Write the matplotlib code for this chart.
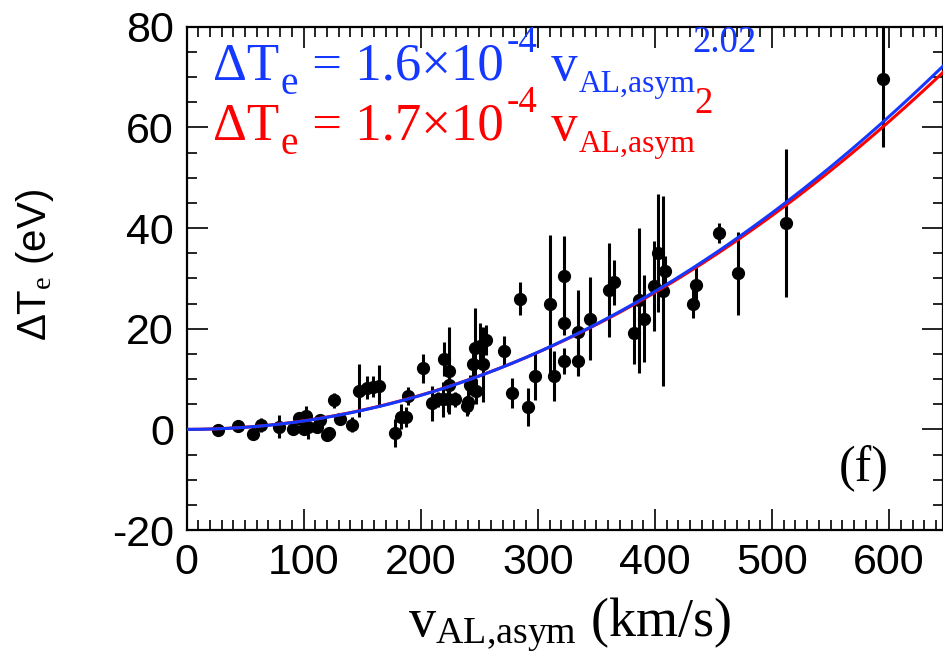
import numpy as np
import matplotlib
matplotlib.use('Agg')
import matplotlib.pyplot as plt
from matplotlib.ticker import MultipleLocator

plt.rcParams['axes.unicode_minus'] = False
plt.rcParams['mathtext.fontset'] = 'custom'
plt.rcParams['mathtext.rm'] = 'Liberation Serif'
plt.rcParams['mathtext.it'] = 'Liberation Serif:italic'

# data: v_AL,asym (km/s), Delta T_e (eV), error (eV)
v_al = [27, 44, 57, 64, 79, 91, 96, 100, 102, 104, 111, 114, 120, 122, 126,
        131, 141, 147, 154, 159, 164.5, 178, 183, 187, 189, 202, 210, 215,
        219, 223, 220, 224, 224, 229, 239.5, 240.5, 242, 245, 246, 247.5,
        251, 253, 256, 271, 278, 285, 291.7, 297.4, 310.7, 314, 322.4, 322,
        322, 334, 334, 344.3, 360.8, 364.8, 381.8, 386.3, 390.4, 399, 402.6,
        406.8, 409, 432.4, 435.3, 454.6, 470.8, 512, 594.6]
dte = [-0.2, 0.6, -1.0, 0.8, 0.5, 0.0, 2.3, 0.0, 2.7, 0.5, 0.4, 1.8, -1.2,
       -0.8, 5.8, 2.1, 0.9, 7.7, 8.3, 8.5, 8.6, -0.8, 2.5, 2.5, 6.7, 12.1,
       5.2, 6.0, 6.0, 6.0, 14.0, 11.7, 8.9, 6.0, 4.6, 5.5, 8.9, 13.0, 16.2,
       7.6, 16.6, 12.9, 17.8, 15.6, 7.3, 26.0, 4.5, 10.6, 25.0, 10.6, 30.4,
       21.2, 13.6, 19.3, 13.6, 22.0, 27.7, 29.2, 19.2, 25.7, 22.0, 28.5,
       35.1, 27.5, 31.5, 25.0, 28.6, 39.1, 31.0, 41.0, 69.7]
dte_err = [0.8, 0.8, 0.8, 1.4, 2.3, 0.8, 0.8, 1.0, 2.0, 2.5, 1.0, 1.0, 0.8,
           0.8, 1.5, 1.2, 1.5, 5.2, 2.3, 2.1, 4.2, 2.8, 2.5, 2.0, 1.8, 2.8,
           3.5, 1.5, 3.5, 2.5, 3.3, 8.7, 1.5, 1.5, 2.0, 2.5, 2.0, 3.5, 8.0,
           2.5, 4.5, 7.5, 3.0, 3.0, 3.0, 3.2, 3.8, 4.8, 13.7, 5.0, 8.0, 2.5,
           2.5, 8.5, 3.0, 8.3, 9.4, 4.5, 6.3, 14.4, 8.7, 8.9, 11.7, 18.8, 3.0,
           2.9, 3.6, 2.0, 8.2, 14.7, 13.5]

# power-law fits
fit_blue = (1.52e-4, 2.02)
fit_red = (1.7e-4, 2.0)
blue = '#1438ff'
red = '#ff0000'

W, H = 943, 665
fig = plt.figure(figsize=(W / 100, H / 100), dpi=100)
ax = fig.add_axes([0.1978, 0.203, 0.8022, 0.7566])

ax.errorbar(v_al, dte, yerr=dte_err, fmt='o', color='black', ms=8.5,
            elinewidth=2.2, capsize=0, zorder=3)

vv = np.linspace(0, 660, 400)
ax.plot(vv, fit_red[0] * vv ** fit_red[1], color=red, lw=2.2, zorder=4)
ax.plot(vv, fit_blue[0] * vv ** fit_blue[1], color=blue, lw=2.2, zorder=5)

ax.set_xlim(0, 646)
ax.set_ylim(-20, 80)
ax.xaxis.set_major_locator(MultipleLocator(100))
ax.xaxis.set_minor_locator(MultipleLocator(10))
ax.yaxis.set_major_locator(MultipleLocator(20))
ax.yaxis.set_minor_locator(MultipleLocator(5))
ax.tick_params(which='both', direction='in', top=True, right=True,
               width=1.2, colors='black')
ax.tick_params(which='major', length=15, labelsize=31, pad=9)
ax.tick_params(which='minor', length=7)
for lab in ax.get_xticklabels() + ax.get_yticklabels():
    lab.set_family('Liberation Sans')
for sp in ax.spines.values():
    sp.set_linewidth(1.6)

ax.set_xlabel(r'v$_\mathrm{AL{,}asym}$ (km/s)', family='Liberation Serif',
              fontsize=39)
ax.xaxis.set_label_coords(0.507, -0.13)
ax.set_ylabel(r'ΔT$_\mathrm{e}$ (eV)', family='Liberation Sans',
              fontsize=29)
ax.yaxis.set_label_coords(-0.172, 0.527)

# equations: pieces laid out left to right
# (text, size factor, y shift in px, x shift in px)
renderer = fig.canvas.get_renderer()


def put_eq(x0, y0, pieces, color, size):
    x = x0
    for s, f, dy, dx in pieces:
        t = fig.text((x + dx) / W, 1 - (y0 - dy) / H, s, fontsize=size * f,
                     family='Liberation Serif', color=color, va='baseline')
        x = t.get_window_extent(renderer).x1 + 1


S = 38
put_eq(213, 80, [('ΔT', 1, 0, 0), ('e', 0.75, -14, 0),
                 (' = 1.6×10', 1, 0, 0), ('-4', 0.7, 28, 2),
                 (' v', 1, 0, 0), ('AL,asym', 0.6, -12, 0),
                 ('2.02', 0.7, 28, -4)], blue, S)
put_eq(213, 140, [('ΔT', 1, 0, 0), ('e', 0.75, -14, 0),
                  (' = 1.7×10', 1, 0, 0), ('-4', 0.7, 28, 2),
                  (' v', 1, 0, 0), ('AL,asym', 0.6, -12, 0),
                  ('2', 0.7, 27, -2)], red, S)

ax.text(557, -10.3, '(f)', family='Liberation Serif', fontsize=36)

fig.savefig('out.png', dpi=100)
